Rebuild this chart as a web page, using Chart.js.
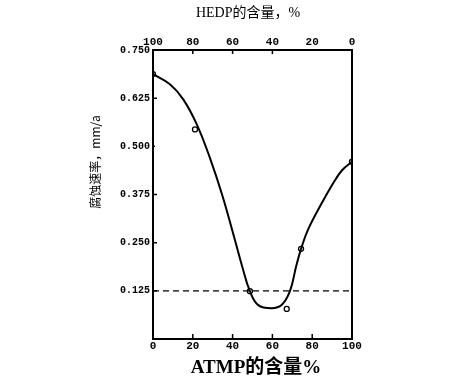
<!DOCTYPE html>
<html><head><meta charset="utf-8">
<script src="https://cdn.jsdelivr.net/npm/chart.js@4"></script>
<style>html,body{margin:0;padding:0;background:#fff}#w{width:457px;height:392px}</style>
</head><body><div id="w"><canvas id="c" width="457" height="392"></canvas></div>
<script>
// ATMP content (%) along the bottom axis, corrosion rate (mm/a)
const curveX = [0, 8.5, 15.2, 22, 28.6, 35, 41, 45, 48.7, 52.9, 59.6, 64.6, 68.8, 72, 74.4, 78, 84, 90.6, 95, 100];
const curveY = [0.6875, 0.661, 0.622, 0.557, 0.470, 0.370, 0.260, 0.185, 0.124, 0.088, 0.080, 0.088, 0.124, 0.190, 0.234, 0.285, 0.345, 0.405, 0.438, 0.460];
const markX = [0, 21.1, 48.7, 67.2, 74.4, 100];
const markY = [0.6875, 0.544, 0.124, 0.078, 0.234, 0.460];
const refLineX = [0, 100];
const refLineY = [0.125, 0.125];
const yTicks = [0, 0.125, 0.25, 0.375, 0.5, 0.625, 0.75];
const bottomTicks = [0, 20, 40, 60, 80, 100];
const topTickLabels = ['100', '80', '60', '40', '20', '0'];
const xTitle = 'ATMP的含量%';
const topTitle = 'HEDP的含量，%';
const yTitle = '腐蚀速率，mm/a';

const zip = (xs, ys) => xs.map((x, i) => ({x, y: ys[i]}));
const monoBold = {family: '"Liberation Mono", "DejaVu Sans Mono", monospace', weight: 'bold'};

const frame = {
  id: 'frame',
  afterDraw(chart) {
    const {ctx, chartArea: a, scales} = chart;
    const x = scales.x, y = scales.y;
    ctx.save();
    ctx.strokeStyle = '#000';
    ctx.lineWidth = 2;
    ctx.strokeRect(a.left, a.top, a.right - a.left, a.bottom - a.top);
    ctx.lineWidth = 1.5;
    ctx.beginPath();
    [20, 40, 60, 80].forEach(v => { const px = x.getPixelForValue(v); ctx.moveTo(px, a.bottom); ctx.lineTo(px, a.bottom - 5); });
    [20, 40, 60].forEach(v => { const px = x.getPixelForValue(v); ctx.moveTo(px, a.top); ctx.lineTo(px, a.top + 4); });
    [0.125, 0.25, 0.375, 0.5, 0.625].forEach(v => { const py = y.getPixelForValue(v); ctx.moveTo(a.left, py); ctx.lineTo(a.left + (v === 0.5 ? 2 : 4), py); });
    ctx.stroke();
    // top axis labels (HEDP, reversed)
    ctx.fillStyle = '#000';
    ctx.font = 'bold 11px "Liberation Mono", monospace';
    ctx.textAlign = 'center';
    ctx.textBaseline = 'middle';
    bottomTicks.forEach((v, i) => ctx.fillText(topTickLabels[i], x.getPixelForValue(v), a.top - 8));
    // titles
    ctx.font = '14px "Liberation Serif", "Noto Sans CJK SC", serif';
    ctx.fillText(topTitle, 248, 13);
    ctx.font = 'bold 19px "Liberation Serif", "Noto Sans CJK SC", serif';
    ctx.fillText(xTitle, 256, 368);
    ctx.translate(95, 162);
    ctx.rotate(-Math.PI / 2);
    ctx.font = '12px "Noto Sans CJK SC", sans-serif';
    ctx.fillText(yTitle, 0, 0);
    ctx.restore();
  }
};

new Chart(document.getElementById('c'), {
  type: 'scatter',
  data: {
    datasets: [
      {type: 'line', data: zip(curveX, curveY), borderColor: '#000', borderWidth: 2, pointRadius: 0, tension: 0.4, fill: false},
      {type: 'line', data: zip(refLineX, refLineY), borderColor: '#000', borderWidth: 1.2, borderDash: [6, 4], pointRadius: 0, fill: false},
      {data: zip(markX, markY), pointRadius: 2.5, pointBackgroundColor: '#fff', pointBorderColor: '#000', pointBorderWidth: 1.3}
    ]
  },
  options: {
    responsive: false, animation: false, devicePixelRatio: 1,
    layout: {padding: {left: 0, right: 105, top: 0, bottom: 0}},
    plugins: {legend: {display: false}, tooltip: {enabled: false}},
    scales: {
      x: {
        type: 'linear', min: 0, max: 100,
        afterBuildTicks: s => { s.ticks = bottomTicks.map(v => ({value: v})); },
        afterFit: s => { s.height = 53; },
        grid: {display: false, drawTicks: false},
        border: {display: false},
        ticks: {color: '#000', font: {...monoBold, size: 11}, padding: 1, maxRotation: 0}
      },
      y: {
        type: 'linear', min: 0, max: 0.75,
        afterBuildTicks: s => { s.ticks = yTicks.map(v => ({value: v})); },
        afterFit: s => { s.width = 153; },
        grid: {display: false, drawTicks: false},
        border: {display: false},
        ticks: {color: '#000', font: {...monoBold, size: 10}, padding: 3,
          callback: v => v === 0 ? '' : Number(v).toFixed(3)}
      },
      x2: {
        type: 'linear', position: 'top', min: 0, max: 100,
        afterFit: s => { s.height = 50; },
        grid: {display: false, drawTicks: false},
        border: {display: false},
        ticks: {display: false}
      }
    }
  },
  plugins: [frame]
});
</script></body></html>
